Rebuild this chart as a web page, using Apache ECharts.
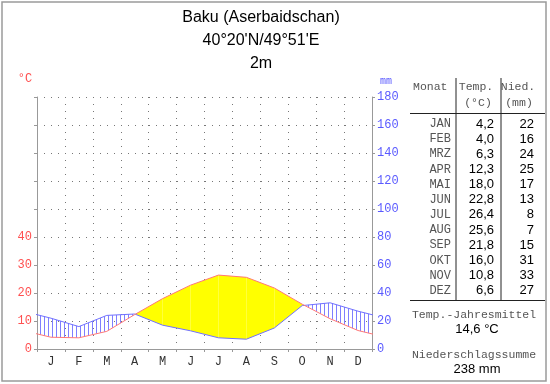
<!DOCTYPE html>
<html><head><meta charset="utf-8">
<script src="https://cdn.jsdelivr.net/npm/echarts@6/dist/echarts.min.js"></script>
<style>html,body{margin:0;padding:0;background:#fff}#c{width:550px;height:384px}</style>
</head><body><div id="c"></div>
<script>
const monthLetters = ['J','F','M','A','M','J','J','A','S','O','N','D'];
const monthNames = ['JAN','FEB','MRZ','APR','MAI','JUN','JUL','AUG','SEP','OKT','NOV','DEZ'];
const temps = [4.2,4.0,6.3,12.3,18.0,22.8,26.4,25.6,21.8,16.0,10.8,6.6];
const precip = [22,16,24,25,17,13,8,7,15,31,33,27];
const tempTicks = [0,10,20,30,40];
const precipTicks = [0,20,40,60,80,100,120,140,160,180];

const chart = echarts.init(document.getElementById('c'), null, {renderer:'canvas'});

// wrap-around: previous December before January, next January after December
const n = temps.length;
function wrapped(arr){
  const out = [[-0.5, arr[n-1]]];
  arr.forEach((v,i)=>out.push([i+0.5, v]));
  out.push([n+0.5, arr[0]]);
  return out;
}
const tW = wrapped(temps), pW = wrapped(precip);
// segments between consecutive points: [x0, x1, T0(mm-scale), T1, P0, P1]
const segs = [];
for (let i = 0; i < tW.length-1; i++) {
  segs.push([tW[i][0], tW[i+1][0], tW[i][1]*2, tW[i+1][1]*2, pW[i][1], pW[i+1][1]]);
}

const hc = document.createElement('canvas');
hc.width = 4; hc.height = 4;
const hx = hc.getContext('2d');
hx.fillStyle = '#7f7fff'; hx.fillRect(0,0,1,4);
const hatch = {image:hc, repeat:'repeat'};

function renderSeg(params, api){
  const x0 = api.value(0), x1 = api.value(1);
  const a0 = api.value(2), a1 = api.value(3), b0 = api.value(4), b1 = api.value(5);
  const d0 = a0-b0, d1 = a1-b1;
  const polys = [];
  function poly(pts, arid){
    polys.push({type:'polygon', shape:{points:pts.map(p=>api.coord(p))},
      style:{fill: arid ? '#ffff00' : hatch, stroke:null}});
  }
  if (d0*d1 >= 0) {
    poly([[x0,a0],[x1,a1],[x1,b1],[x0,b0]], (d0+d1) > 0);
  } else {
    const t = d0/(d0-d1);
    const xc = x0 + t*(x1-x0), yc = b0 + t*(b1-b0);
    poly([[x0,a0],[xc,yc],[x0,b0]], d0 > 0);
    poly([[xc,yc],[x1,a1],[x1,b1]], d1 > 0);
  }
  return {type:'group', children:polys};
}

const mono = '"Liberation Mono", "DejaVu Sans Mono", monospace';
const sans = '"Liberation Sans", Arial, sans-serif';
const red = '#ff5050', blue = '#5a5aff';

const graphics = [];
graphics.push({type:'rect', shape:{x:2,y:2,width:544,height:379}, style:{fill:null, stroke:'#9a9a9a', lineWidth:1.5}, silent:true});
['Baku (Aserbaidschan)', "40°20'N/49°51'E", '2m'].forEach((t,i)=>{
  graphics.push({type:'text', x:261, y:18+i*23, style:{text:t, font:'16px '+sans, fill:'#000', align:'center', verticalAlign:'middle'}});
});
graphics.push({type:'text', x:25, y:79, style:{text:'°C', font:'12px '+mono, fill:red, align:'center', verticalAlign:'middle'}});
graphics.push({type:'text', x:386, y:81, style:{text:'mm', font:'10px '+mono, fill:blue, align:'center', verticalAlign:'middle'}});

// table
const lineCol = '#222';
graphics.push({type:'line', shape:{x1:456,y1:78,x2:456,y2:300}, style:{stroke:lineCol, lineWidth:1}});
graphics.push({type:'line', shape:{x1:501,y1:78,x2:501,y2:300}, style:{stroke:lineCol, lineWidth:1}});
graphics.push({type:'line', shape:{x1:410,y1:113.5,x2:545,y2:113.5}, style:{stroke:lineCol, lineWidth:1}});
graphics.push({type:'line', shape:{x1:410,y1:300.5,x2:545,y2:300.5}, style:{stroke:lineCol, lineWidth:1}});
const tf = '11.5px '+mono, grey = '#555';
graphics.push({type:'text', x:413, y:87, style:{text:'Monat', font:tf, fill:grey, align:'left', verticalAlign:'middle'}});
graphics.push({type:'text', x:476, y:87, style:{text:'Temp.', font:tf, fill:grey, align:'center', verticalAlign:'middle'}});
graphics.push({type:'text', x:478, y:103, style:{text:'(°C)', font:tf, fill:grey, align:'center', verticalAlign:'middle'}});
graphics.push({type:'text', x:518, y:87, style:{text:'Nied.', font:tf, fill:grey, align:'center', verticalAlign:'middle'}});
graphics.push({type:'text', x:519, y:103, style:{text:'(mm)', font:tf, fill:grey, align:'center', verticalAlign:'middle'}});
monthNames.forEach((m,i)=>{
  const y = 124 + i*15.15;
  graphics.push({type:'text', x:451, y:y, style:{text:m, font:'12px '+mono, fill:grey, align:'right', verticalAlign:'middle'}});
  graphics.push({type:'text', x:494, y:y, style:{text:temps[i].toFixed(1).replace('.',','), font:'13px '+sans, fill:'#000', align:'right', verticalAlign:'middle'}});
  graphics.push({type:'text', x:534, y:y, style:{text:String(precip[i]), font:'13px '+sans, fill:'#000', align:'right', verticalAlign:'middle'}});
});
const meanT = temps.reduce((a,b)=>a+b,0)/n;
const sumP = precip.reduce((a,b)=>a+b,0);
graphics.push({type:'text', x:474, y:315, style:{text:'Temp.-Jahresmittel', font:tf, fill:grey, align:'center', verticalAlign:'middle'}});
graphics.push({type:'text', x:477, y:329, style:{text:meanT.toFixed(1).replace('.',',')+' °C', font:'13px '+sans, fill:'#000', align:'center', verticalAlign:'middle'}});
graphics.push({type:'text', x:474, y:355, style:{text:'Niederschlagssumme', font:tf, fill:grey, align:'center', verticalAlign:'middle'}});
graphics.push({type:'text', x:477, y:369, style:{text:sumP+' mm', font:'13px '+sans, fill:'#000', align:'center', verticalAlign:'middle'}});

const dotted = {color:'#777', width:1, type:[1,6]};

chart.setOption({
  animation:false,
  backgroundColor:'#fff',
  grid:{left:37, top:97, width:335, height:252, containLabel:false},
  xAxis:[
    {type:'category', data:monthLetters, boundaryGap:true, position:'bottom',
     axisLine:{lineStyle:{color:'#999'}}, axisTick:{show:true, length:3, lineStyle:{color:'#999'}},
     axisLabel:{color:'#333', fontFamily:'"Liberation Mono", monospace', fontSize:12, margin:7},
     splitLine:{show:true, lineStyle:dotted}},
    {type:'value', min:0, max:12, show:false}
  ],
  yAxis:[
    {type:'value', min:0, max:90, interval:10, position:'left',
     axisLine:{show:true, lineStyle:{color:'#999'}}, axisTick:{show:true, length:3, lineStyle:{color:'#999'}},
     axisLabel:{color:red, fontFamily:'"Liberation Mono", monospace', fontSize:12, margin:5,
       formatter:v=> tempTicks.indexOf(v) >= 0 ? String(v) : ''},
     splitLine:{show:true, lineStyle:dotted}},
    {type:'value', min:0, max:180, interval:20, position:'right',
     axisLine:{show:true, lineStyle:{color:'#999'}}, axisTick:{show:true, length:3, lineStyle:{color:'#999'}},
     axisLabel:{color:blue, fontFamily:'"Liberation Mono", monospace', fontSize:12, margin:5,
       formatter:v=> precipTicks.indexOf(v) >= 0 ? String(v) : ''},
     splitLine:{show:false}}
  ],
  series:[
    {type:'custom', name:'fill', xAxisIndex:1, yAxisIndex:1, data:segs, renderItem:renderSeg, clip:true, silent:true,
     encode:{x:[0,1], y:[2,3,4,5]}},
    {type:'line', name:'Niederschlag', xAxisIndex:1, yAxisIndex:1, data:pW, symbol:'none', lineStyle:{color:'#7070ff', width:1}},
    {type:'line', name:'Temperatur', xAxisIndex:1, yAxisIndex:0, data:tW, symbol:'none', lineStyle:{color:'#ff7878', width:1}}
  ],
  graphic:graphics
});
</script></body></html>
